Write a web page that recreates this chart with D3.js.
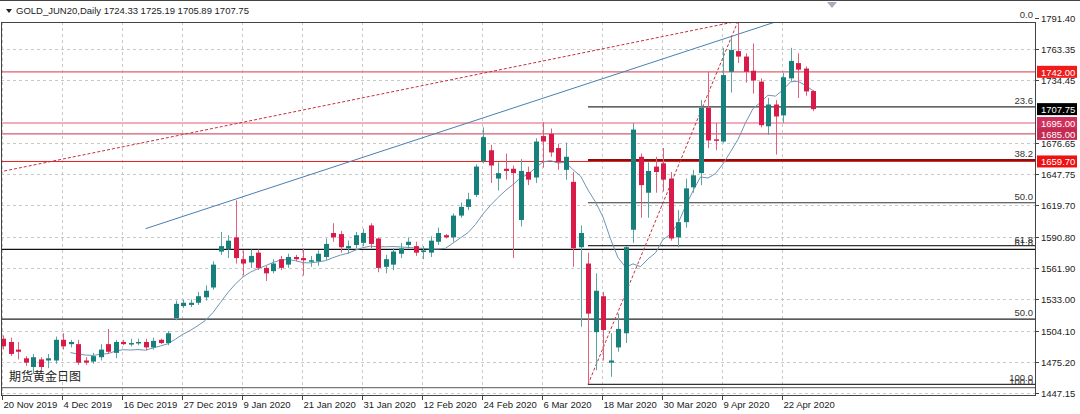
<!DOCTYPE html>
<html>
<head>
<meta charset="UTF-8">
<title>GOLD_JUN20 Daily</title>
<script src="https://d3js.org/d3.v7.min.js"></script>
<style>
    body { margin: 0; background: #fff; }
    svg { display: block; font-family: "Liberation Sans", Arial, sans-serif; }
</style>
</head>
<body>
<svg id="chart" width="1080" height="414"></svg>
<script>
// OHLC, one row per daily bar
const opens  = [1497,1494,1487,1479,1471,1478,1477,1477,1496,1492,1492,1477,1476,1480,1492,1484,1494,1492,1493,1494,1489,1496,1493,1516,1527,1528,1530,1535,1544,1577,1579,1590,1570,1567,1576,1562,1559,1570,1565,1572,1571,1568,1568,1572,1594,1593,1580,1583,1585,1601,1589,1563,1565,1575,1583,1582,1577,1576,1586,1592,1590,1610,1618,1629,1660,1670,1644,1653,1653,1606,1650,1645,1683,1685,1672,1652,1641,1581,1566,1503,1536,1475,1489,1502,1597,1664,1631,1655,1658,1644,1590,1604,1636,1649,1709,1680,1678,1742,1761,1756,1743,1733,1692,1712,1702,1736,1750,1745,1724.33];
const highs  = [1500,1498,1494,1481,1483,1480,1483,1499,1502,1496,1496,1480,1484,1492,1506,1496,1496,1497,1497,1497,1498,1497,1504,1532,1533,1533,1540,1546,1568,1595,1592,1624,1578,1579,1579,1564,1570,1573,1575,1574,1580,1573,1578,1589,1603,1596,1587,1595,1598,1603,1590,1574,1580,1585,1590,1586,1582,1591,1599,1593,1612,1622,1631,1657,1691,1675,1659,1667,1656,1662,1655,1681,1696,1690,1676,1677,1650,1601,1576,1557,1540,1502,1520,1582,1695,1667,1659,1664,1672,1650,1615,1644,1652,1716,1742,1695,1764,1773,1788,1759,1768,1736,1718,1716,1741,1764,1759,1747,1725.19];
const lows   = [1487,1481,1478,1472,1465,1468,1470,1474,1487,1489,1473,1473,1474,1477,1483,1479,1491,1490,1491,1486,1487,1492,1491,1514,1525,1526,1528,1532,1542,1574,1571,1566,1555,1562,1560,1550,1557,1560,1562,1568,1555,1563,1564,1569,1586,1576,1575,1580,1582,1580,1558,1557,1560,1571,1580,1573,1570,1572,1583,1589,1586,1608,1615,1627,1658,1640,1633,1643,1571,1600,1638,1640,1654,1664,1652,1643,1563,1508,1456,1468,1477,1462,1485,1493,1585,1608,1608,1631,1632,1587,1581,1599,1631,1638,1672,1670,1677,1723,1750,1732,1722,1691,1684,1666,1695,1733,1718,1720,1705.89];
const closes = [1490,1483,1485,1475,1480,1471,1479,1496,1490,1494,1475,1475,1481,1487,1485,1494,1492,1493,1494,1489,1495,1493,1502,1529,1530,1530,1536,1541,1565,1582,1587,1571,1566,1573,1562,1557,1566,1562,1572,1570,1569,1569,1575,1584,1590,1581,1582,1592,1594,1584,1562,1570,1577,1580,1586,1576,1578,1587,1594,1590,1610,1618,1625,1655,1682,1656,1649,1651,1649,1651,1643,1678,1678,1668,1659,1664,1580,1594,1520,1541,1505,1477,1506,1581,1689,1638,1651,1650,1643,1589,1604,1635,1647,1709,1679,1679,1739,1762,1756,1742,1734,1693,1712,1701,1737,1752,1744,1724,1707.75];

const dateLabels = ["20 Nov 2019","4 Dec 2019","16 Dec 2019","27 Dec 2019","9 Jan 2020","21 Jan 2020","31 Jan 2020","12 Feb 2020","24 Feb 2020","6 Mar 2020","18 Mar 2020","30 Mar 2020","9 Apr 2020","22 Apr 2020"];
const labelStep = 8; // bars between date labels
const priceTicks = [1791.40,1763.35,1734.45,1676.65,1647.75,1619.70,1590.80,1561.90,1533.00,1504.10,1475.20,1447.15];

// horizontal levels
const redLevels = [
  {p: 1742.00, c: "#e0606e", w: 1.2, tag: "#f01c1c"},
  {p: 1695.00, c: "#f090a4", w: 1.5, tag: "#d0305c"},
  {p: 1685.00, c: "#c43652", w: 1,   tag: "#c42a52"},
  {p: 1659.70, c: "#e02020", w: 1,   tag: "#ee1111"}
];
const fibRight = [ // from the Mar low to the Apr high
  {p: 1788.5, t: "0.0"}, {p: 1709.8, t: "23.6"}, {p: 1661.0, t: "38.2"},
  {p: 1621.8, t: "50.0"}, {p: 1582.4, t: "61.8"}, {p: 1455.0, t: "100.0"}
];
const fibFull = [
  {p: 1579.0, t: "61.8", c: "#111"}, {p: 1515.0, t: "50.0", c: "#222"}, {p: 1452.0, t: "100.0", c: "#777"}
];
const fibStart = 78; // bar where the right fib starts
const trendBlue = [{i: 19, p: 1598}, {i: 111.5, p: 1807}];
const trendRed  = [{i: -0.5, p: 1650}, {i: 98, p: 1788.5}];
const swingRed  = [{i: 78, p: 1455}, {i: 98, p: 1788.5}];
const maPeriod = 10;

const L = 1, R = 1035, T = 22, B = 395;
const svg = d3.select("#chart");
const x = d3.scaleLinear().domain([0, 1]).range([3, 10.5]);
const y = d3.scaleLinear().domain([1447.15, 1791.40]).range([393, 18]);

svg.append("clipPath").attr("id", "plot")
  .append("rect").attr("x", L).attr("y", T).attr("width", R - L).attr("height", B - T);

// header
svg.append("path").attr("d", "M6,9 L12,9 L9,13 Z").attr("fill", "#222");
svg.append("text").attr("x", 16).attr("y", 14).attr("font-size", 9.5).attr("fill", "#222")
  .text("GOLD_JUN20,Daily  1724.33 1725.19 1705.89 1707.75");

const g = svg.append("g").attr("clip-path", "url(#plot)");

// grid
dateLabels.forEach((d, k) => {
  const xx = Math.round(x(k * labelStep)) - 0.5;
  g.append("line").attr("x1", xx).attr("x2", xx).attr("y1", T).attr("y2", B)
    .attr("stroke", "#c8c8c8").attr("stroke-dasharray", "3,3");
});
priceTicks.forEach(p => {
  const yy = Math.round(y(p)) + 0.5;
  g.append("line").attr("x1", L).attr("x2", R).attr("y1", yy).attr("y2", yy)
    .attr("stroke", "#c8c8c8").attr("stroke-dasharray", "3,3");
});

// full-width fib lines
fibFull.forEach(f => {
  g.append("line").attr("x1", L).attr("x2", R).attr("y1", y(f.p)).attr("y2", y(f.p))
    .attr("stroke", f.c).attr("stroke-width", 1.3);
});
g.append("line").attr("x1", L).attr("x2", R).attr("y1", y(1788.5)).attr("y2", y(1788.5))
  .attr("stroke", "#666").attr("stroke-width", 1.3);

// red levels
redLevels.forEach(r => {
  g.append("line").attr("x1", L).attr("x2", R).attr("y1", y(r.p)).attr("y2", y(r.p))
    .attr("stroke", r.c).attr("stroke-width", r.w);
});

// right fib lines
fibRight.forEach(f => {
  g.append("line").attr("x1", x(fibStart)).attr("x2", R).attr("y1", y(f.p)).attr("y2", y(f.p))
    .attr("stroke", f.t === "38.2" ? "#8a1010" : "#333").attr("stroke-width", f.t === "38.2" ? 2 : 1.2);
  svg.append("text").attr("x", R - 2).attr("y", y(f.p) - 3).attr("text-anchor", "end")
    .attr("font-size", 9.5).attr("fill", "#333").text(f.t);
});
fibFull.forEach(f => {
  svg.append("text").attr("x", R - 2).attr("y", y(f.p) - 3).attr("text-anchor", "end")
    .attr("font-size", 9.5).attr("fill", "#333").text(f.t);
});

// trend lines
const seg = pts => d3.line().x(d => x(d.i)).y(d => y(d.p))(pts);
g.append("path").attr("d", seg(trendBlue)).attr("stroke", "#4a7fb0").attr("fill", "none");
g.append("path").attr("d", seg(trendRed)).attr("stroke", "#c8303c").attr("stroke-dasharray", "3,2").attr("fill", "none");
g.append("path").attr("d", seg(swingRed)).attr("stroke", "#c8303c").attr("stroke-dasharray", "3,2").attr("fill", "none");

// moving average
const ma = closes.map((c, i) => i < maPeriod - 1 ? null : d3.mean(closes.slice(i - maPeriod + 1, i + 1)));
g.append("path")
  .attr("d", d3.line().defined(d => d !== null).x((d, i) => x(i)).y(d => y(d))(ma))
  .attr("stroke", "#6f95b4").attr("fill", "none").attr("stroke-width", 1);

// candles
const up = "#17807a", dn = "#d81b48";
const bars = g.selectAll(".bar").data(opens.map((o, i) => ({i, o, h: highs[i], l: lows[i], c: closes[i]})))
  .enter().append("g");
bars.append("line")
  .attr("x1", d => Math.round(x(d.i)) + 0.5).attr("x2", d => Math.round(x(d.i)) + 0.5)
  .attr("y1", d => y(d.h)).attr("y2", d => y(d.l))
  .attr("stroke", d => d.c >= d.o ? "#5aa5a0" : "#e0607e");
bars.append("rect")
  .attr("x", d => Math.round(x(d.i)) - 2).attr("width", 5)
  .attr("y", d => y(Math.max(d.o, d.c)))
  .attr("height", d => Math.max(1.5, Math.abs(y(d.o) - y(d.c))))
  .attr("fill", d => d.c >= d.o ? up : dn);

// top-right marker
svg.append("path").attr("d", "M827,2 L837,2 L832,8 Z").attr("fill", "#aab");

// watermark
svg.append("text").attr("x", 9).attr("y", 381).attr("font-size", 12).attr("fill", "#222")
  .attr("font-family", "Noto Sans CJK SC").text("期货黄金日图");

// frame
svg.append("rect").attr("x", L + 0.5).attr("y", T + 0.5).attr("width", R - L).attr("height", B - T)
  .attr("fill", "none").attr("stroke", "#444");
svg.append("line").attr("x1", 0).attr("x2", 1080).attr("y1", 0.5).attr("y2", 0.5).attr("stroke", "#444");

// price axis
priceTicks.forEach(p => {
  svg.append("line").attr("x1", R).attr("x2", R + 4).attr("y1", Math.round(y(p)) + 0.5).attr("y2", Math.round(y(p)) + 0.5).attr("stroke", "#444");
  svg.append("text").attr("x", R + 6).attr("y", y(p) + 4).attr("font-size", 9.5).attr("fill", "#222").text(p.toFixed(2));
});
const tags = redLevels.map(r => ({p: r.p, bg: r.tag})).concat([{p: 1707.75, bg: "#000"}]);
tags.forEach(t => {
  svg.append("rect").attr("x", R + 2).attr("y", y(t.p) - 6).attr("width", 40).attr("height", 12).attr("fill", t.bg);
  svg.append("text").attr("x", R + 6).attr("y", y(t.p) + 4).attr("font-size", 9.5).attr("fill", "#fff").text(t.p.toFixed(2));
});

// date axis
dateLabels.forEach((d, k) => {
  const xx = Math.round(x(k * labelStep)) - 0.5;
  svg.append("line").attr("x1", xx).attr("x2", xx).attr("y1", B).attr("y2", B + 5).attr("stroke", "#444");
  svg.append("text").attr("x", xx + 1).attr("y", 408).attr("font-size", 9.5).attr("fill", "#222").text(d);
});
</script>
</body>
</html>
